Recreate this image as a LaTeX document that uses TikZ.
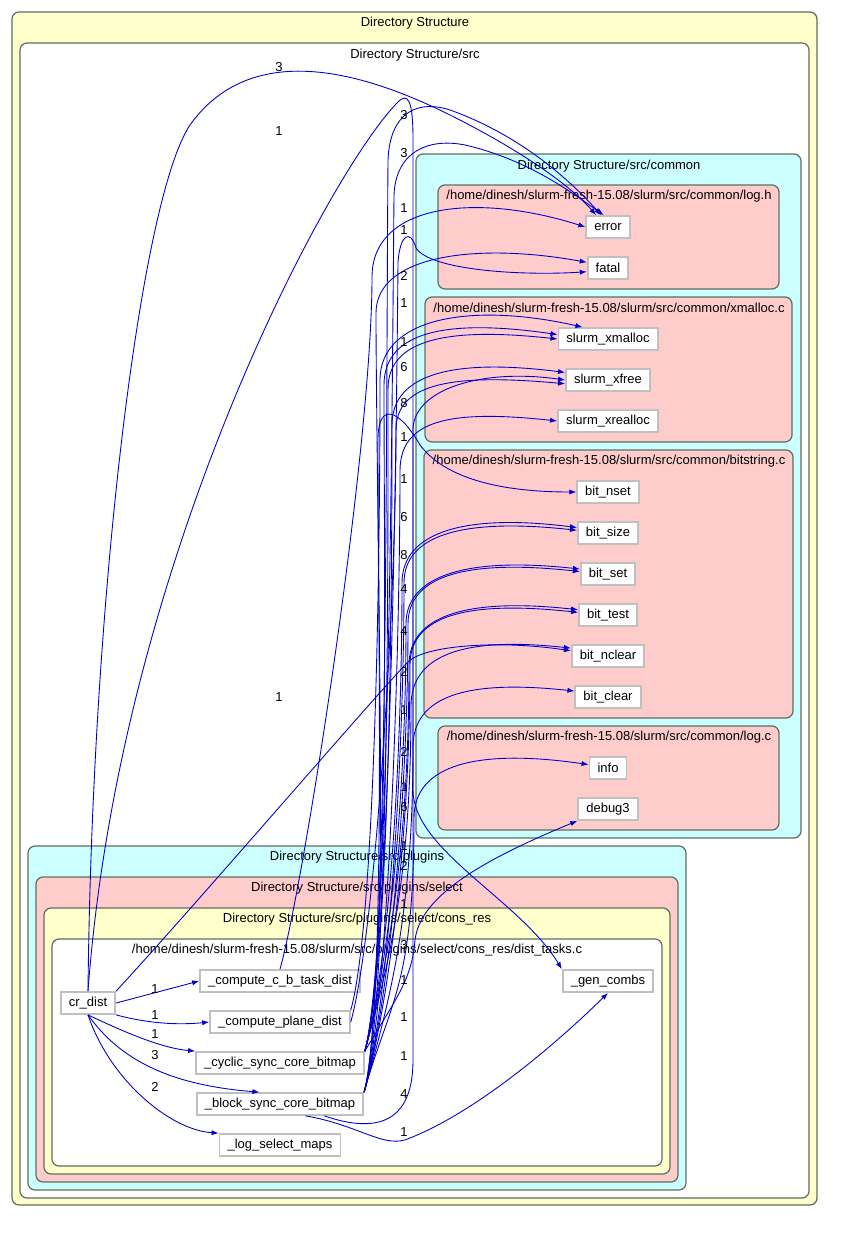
\documentclass[tikz,border=0pt]{standalone}
\usepackage{fontspec}
\setmainfont{Liberation Sans}
\usetikzlibrary{arrows.meta, calc}
\definecolor{dirYellow}{RGB}{255,255,204}
\definecolor{dirCyan}{RGB}{204,255,255}
\definecolor{dirPink}{RGB}{255,204,204}
\definecolor{dirEdge}{RGB}{96,110,96}
\definecolor{callBlue}{RGB}{0,0,205}
\definecolor{fnGray}{RGB}{192,192,192}
\newcommand{\gvfont}{\fontsize{7.4}{8.6}\selectfont}
% caller -> callee: up the column, then arc right into the callee
\newcommand{\upcall}[5]{%
  \draw[callarrow] (#1) .. controls ($(#1)+(25,-90)$) and (#3,#4+220) .. (#3,#4+50)
    .. controls (#3,#4-#5+12) and ($(#2)+(-110,-#5)$) .. (#2);}

\begin{document}
\begin{tikzpicture}[
    x=0.02cm, y=-0.02cm,
    every node/.style={font=\gvfont},
    dirbox/.style   ={draw=dirEdge, line width=0.7pt, rounded corners=4pt},
    dirtitle/.style ={inner sep=0pt},
    fnbox/.style    ={rectangle, draw=fnGray, line width=1pt, fill=white, minimum height=0.44cm, inner xsep=4.6pt, inner ysep=0pt},
    callarrow/.style={draw=callBlue, line width=0.5pt, -{Latex[length=4pt,width=3pt]}},
    countlbl/.style ={inner sep=0pt}
]
\useasboundingbox (0,0) rectangle (865,1254);

% clusters
\draw[dirbox, fill=dirYellow] (12,12) rectangle (817,1205);
\draw[dirbox, fill=white] (20,43) rectangle (809,1198);
\draw[dirbox, fill=dirCyan] (416,154) rectangle (801,838);
\draw[dirbox, fill=dirPink] (438,185) rectangle (779,289);
\draw[dirbox, fill=dirPink] (425,297) rectangle (792,442);
\draw[dirbox, fill=dirPink] (424,450) rectangle (793,718);
\draw[dirbox, fill=dirPink] (438,726) rectangle (779,830);
\draw[dirbox, fill=dirCyan] (28,846) rectangle (686,1190);
\draw[dirbox, fill=dirPink] (36,877) rectangle (678,1182);
\draw[dirbox, fill=dirYellow] (44,908) rectangle (670,1174);
\draw[dirbox, fill=white] (52,939) rectangle (662,1166);

\node[dirtitle] (tRoot) at (415,23) {Directory Structure};
\node[dirtitle] (tSrc) at (415,55) {Directory Structure/src};
\node[dirtitle] (tCommon) at (609,166) {Directory Structure/src/common};
\node[dirtitle] (tLogH) at (609,196) {/home/dinesh/slurm-fresh-15.08/slurm/src/common/log.h};
\node[dirtitle] (tXmalloc) at (609,308) {/home/dinesh/slurm-fresh-15.08/slurm/src/common/xmalloc.c};
\node[dirtitle] (tBitstr) at (609,461) {/home/dinesh/slurm-fresh-15.08/slurm/src/common/bitstring.c};
\node[dirtitle] (tLogC) at (609,737) {/home/dinesh/slurm-fresh-15.08/slurm/src/common/log.c};
\node[dirtitle] (tPlugins) at (357,857) {Directory Structure/src/plugins};
\node[dirtitle] (tSelect) at (357,888) {Directory Structure/src/plugins/select};
\node[dirtitle] (tConsRes) at (357,919) {Directory Structure/src/plugins/select/cons\_res};
\node[dirtitle] (tDist) at (357,950) {/home/dinesh/slurm-fresh-15.08/slurm/src/plugins/select/cons\_res/dist\_tasks.c};

% functions
\node[fnbox] (err) at (608,227) {error};
\node[fnbox] (fat) at (608,268) {fatal};
\node[fnbox] (xmal) at (608,339) {slurm\_xmalloc};
\node[fnbox] (xfr) at (608,380) {slurm\_xfree};
\node[fnbox] (xrea) at (608,421) {slurm\_xrealloc};
\node[fnbox] (bnset) at (608,492) {bit\_nset};
\node[fnbox] (bsize) at (608,533) {bit\_size};
\node[fnbox] (bset) at (608,574) {bit\_set};
\node[fnbox] (btest) at (608,615) {bit\_test};
\node[fnbox] (bnclr) at (608,656) {bit\_nclear};
\node[fnbox] (bclr) at (608,697) {bit\_clear};
\node[fnbox] (info) at (608,768) {info};
\node[fnbox] (dbg) at (608,809) {debug3};
\node[fnbox] (crd) at (88,1003) {cr\_dist};
\node[fnbox] (ccb) at (280,981) {\_compute\_c\_b\_task\_dist};
\node[fnbox] (cpd) at (280,1022) {\_compute\_plane\_dist};
\node[fnbox] (csc) at (280,1063) {\_cyclic\_sync\_core\_bitmap};
\node[fnbox] (bsc) at (280,1104) {\_block\_sync\_core\_bitmap};
\node[fnbox] (lsm) at (280,1145) {\_log\_select\_maps};
\node[fnbox] (gcmb) at (608,981) {\_gen\_combs};

% calls inside dist_tasks.c
\draw[callarrow] (crd.east) -- (ccb.west);
\draw[callarrow] (crd.south east) .. controls (150,1024) and (180,1025) .. (cpd.west);
\draw[callarrow] (crd.south) .. controls (120,1030) and (160,1048) .. (csc.north west);
\draw[callarrow] (crd.south) .. controls (120,1060) and (170,1085) .. (bsc.150);
\draw[callarrow] (crd.south) .. controls (110,1080) and (170,1130) .. (lsm.north west);
\draw[callarrow] (bsc.-25) .. controls (360,1125) and (385,1150) .. (410,1138) .. controls (480,1110) and (560,1040) .. (gcmb.south);

% cr_dist upward
\draw[callarrow] (crd.north) .. controls (92,600) and (140,200) .. (190,125) .. controls (240,55) and (330,55) .. (450,115) .. controls (520,150) and (570,185) .. (err.135);
\draw[callarrow] (crd.north) .. controls (120,560) and (330,170) .. (398,102) .. controls (408,92) and (413,100) .. (413,140) -- (413,790) .. controls (413,850) and (520,900) .. (gcmb.north west);
\draw[callarrow] (crd.north east) .. controls (200,900) and (380,690) .. (408,662) .. controls (425,645) and (500,640) .. (bnclr.172);

% error and fatal
\draw[callarrow] (bsc.north east) .. controls (388,1003) and (386,400) .. (388,160) .. controls (390,110) and (420,100) .. (450,110) .. controls (520,135) and (570,180) .. (err.120);
\draw[callarrow] (csc.north east) .. controls (389,962) and (392,420) .. (394,195) .. controls (396,150) and (430,138) .. (465,145) .. controls (530,160) and (575,195) .. (err.110);
\upcall{ccb.north}{err.west}{372}{227}{35}
\draw[callarrow] (csc.north east) .. controls (389,962) and (396,500) .. (398,262) .. controls (400,235) and (410,228) .. (416,248) .. controls (430,270) and (520,276) .. (fat.190);
\upcall{bsc.north east}{fat.165}{376}{263}{20}

% xmalloc.c
\upcall{cpd.north east}{xmal.155}{380}{330}{25}
\upcall{csc.north east}{xmal.175}{384}{335}{16}
\upcall{bsc.north east}{xmal.west}{388}{339}{12}
\upcall{csc.north east}{xfr.170}{392}{375}{14}
\upcall{cpd.east}{xfr.185}{396}{380}{10}
\draw[callarrow] (bsc.-15) .. controls (380,1135) and (413,1120) .. (413,1060) -- (413,430) .. controls (413,390) and (480,368) .. (xfr.west);
\upcall{bsc.north east}{xrea.west}{400}{421}{12}

% bitstring.c
\draw[callarrow] (csc.north east) .. controls (389,962) and (378,700) .. (378,440) .. controls (378,400) and (400,410) .. (420,445) .. controls (450,485) and (520,492) .. (bnset.west);
\upcall{csc.north east}{bsize.170}{402}{533}{14}
\upcall{bsc.north east}{bsize.175}{404}{533}{12}
\upcall{csc.north east}{bset.170}{406}{574}{12}
\upcall{bsc.north east}{bset.175}{408}{574}{12}
\upcall{csc.north east}{btest.170}{409}{615}{12}
\upcall{bsc.north east}{btest.175}{410}{615}{12}
\upcall{csc.north east}{bnclr.168}{411}{656}{12}
\upcall{bsc.north east}{bclr.170}{413}{697}{12}

% log.c
\upcall{bsc.north east}{info.170}{414}{768}{16}
\draw[callarrow] (csc.north east) .. controls (395,1000) and (412,980) .. (415,940) .. controls (420,900) and (470,865) .. (dbg.south west);

% call counts
\node[countlbl] (n1) at (279,67) {3};
\node[countlbl] (n2) at (279,131) {1};
\node[countlbl] (n3) at (279,697) {1};
\node[countlbl] (n4) at (155,989) {1};
\node[countlbl] (n5) at (155,1015) {1};
\node[countlbl] (n6) at (155,1034) {1};
\node[countlbl] (n7) at (155,1055) {3};
\node[countlbl] (n8) at (155,1087) {2};
\foreach \ly/\lt [count=\k] in {115/3, 153/3, 208/1, 230/1, 276/2, 303/1, 342/1, 367/6, 403/8, 437/1, 479/1, 517/6, 555/8, 589/4, 631/4, 672/2, 710/1, 752/2, 787/1, 807/6, 846/1, 866/2, 904/1, 945/3, 980/1, 1017/1, 1056/1, 1094/4, 1132/1}
  \node[countlbl] (c\k) at (404,\ly) {\lt};
\end{tikzpicture}
\end{document}
